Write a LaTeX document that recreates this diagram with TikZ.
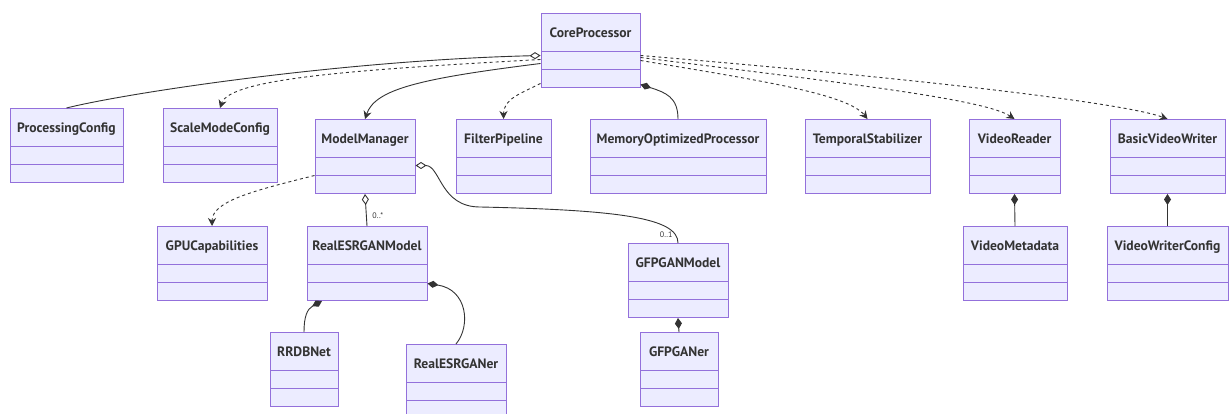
\documentclass[tikz,border=0pt]{standalone}
\usepackage{fontspec}
\setmainfont{PT Sans}
\usepackage{xcolor}
\usepackage{tikz}
\usetikzlibrary{arrows.meta}
\definecolor{ClassBorder}{HTML}{9370DB}
\definecolor{ClassFill}{HTML}{ECECFF}
\definecolor{ClassText}{HTML}{333333}
\definecolor{EdgeGrey}{HTML}{333333}

\begin{document}
\begin{tikzpicture}[
  x=1pt, y=1pt,
  classbox/.style={draw=ClassBorder, fill=ClassFill, line width=1pt, text=ClassText,
                   font=\bfseries\fontsize{13.6}{15}\selectfont, anchor=north,
                   inner ysep=0pt, text height=24pt, text depth=50pt, minimum height=74pt,
                   path picture={\draw[ClassBorder, line width=1pt]
                     ([yshift=-38pt]path picture bounding box.north west) -- ([yshift=-38pt]path picture bounding box.north east)
                     ([yshift=-56pt]path picture bounding box.north west) -- ([yshift=-56pt]path picture bounding box.north east);}},
  assoc/.style={-{Stealth[length=8pt, width=8pt]}, line width=0.9pt, color=EdgeGrey},
  depend/.style={assoc, dash pattern=on 3pt off 3pt},
  aggr/.style={{Diamond[open, length=11pt, width=7pt]}-, line width=0.9pt, color=EdgeGrey},
  compo/.style={{Diamond[length=11pt, width=7pt]}-, line width=0.9pt, color=EdgeGrey},
  multlbl/.style={font=\fontsize{8}{9}\selectfont, text=ClassText, inner sep=1pt},
]
  \useasboundingbox (0,0) rectangle (1231,-414);

  % CoreProcessor: top-centre
  \node[classbox, minimum width=99pt] (CoreProcessor) at (590.5,-13) {CoreProcessor};

  % first row
  \node[classbox, minimum width=113pt] (ProcessingConfig) at (66.5,-108) {ProcessingConfig};
  \node[classbox, minimum width=114pt] (ScaleModeConfig) at (220,-108) {ScaleModeConfig};
  \node[classbox, minimum width=100pt] (ModelManager) at (365,-119) {ModelManager};
  \node[classbox, minimum width=95pt] (FilterPipeline) at (503.5,-119) {FilterPipeline};
  \node[classbox, minimum width=176pt] (MemoryOptimizedProcessor) at (678,-119) {MemoryOptimizedProcessor};
  \node[classbox, minimum width=125pt] (TemporalStabilizer) at (867.5,-119) {TemporalStabilizer};
  \node[classbox, minimum width=91pt] (VideoReader) at (1014.5,-119) {VideoReader};
  \node[classbox, minimum width=115pt] (BasicVideoWriter) at (1167.5,-119) {BasicVideoWriter};

  % second row
  \node[classbox, minimum width=110pt] (GPUCapabilities) at (212,-226) {GPUCapabilities};
  \node[classbox, minimum width=120pt] (RealESRGANModel) at (367,-226) {RealESRGANModel};
  \node[classbox, minimum width=100pt] (GFPGANModel) at (678,-243) {GFPGANModel};
  \node[classbox, minimum width=104pt] (VideoMetadata) at (1015,-226) {VideoMetadata};
  \node[classbox, minimum width=121pt] (VideoWriterConfig) at (1167.5,-226) {VideoWriterConfig};

  % third row
  \node[classbox, minimum width=68pt] (RRDBNet) at (304,-332) {RRDBNet};
  \node[classbox, minimum width=100pt] (RealESRGANer) at (456,-344) {RealESRGANer};
  \node[classbox, minimum width=78pt] (GFPGANer) at (679,-332) {GFPGANer};

  %% CoreProcessor, left side
  \draw[aggr] ([yshift=-5pt]CoreProcessor.west) .. controls +(-200,-5) and +(60,15) .. (ProcessingConfig.north);
  \draw[depend] ([yshift=-9pt]CoreProcessor.west) .. controls +(-180,-10) and +(10,30) .. (ScaleModeConfig.north);
  \draw[assoc] ([yshift=-13pt]CoreProcessor.west) .. controls +(-120,-15) and +(10,30) .. (ModelManager.north);
  \draw[depend] ([yshift=-33pt]CoreProcessor.west) .. controls +(-20,-10) and +(0,20) .. (FilterPipeline.north);

  %% CoreProcessor, right side
  \draw[compo] ([yshift=-34pt]CoreProcessor.east) .. controls +(25,-8) and +(0,22) .. (MemoryOptimizedProcessor.north);
  \draw[depend] ([yshift=-10pt]CoreProcessor.east) .. controls +(120,-20) and +(-20,25) .. (TemporalStabilizer.north);
  \draw[depend] ([yshift=-7pt]CoreProcessor.east) .. controls +(200,-25) and +(-30,20) .. (VideoReader.north);
  \draw[depend] ([yshift=-5pt]CoreProcessor.east) .. controls +(300,-25) and +(-40,15) .. (BasicVideoWriter.north);

  %% ModelManager
  \draw[depend] ([yshift=-19pt]ModelManager.west) .. controls +(-60,-15) and +(0,25) .. (GPUCapabilities.north);
  \draw[aggr] (ModelManager.south) -- (RealESRGANModel.north)
    node[multlbl, pos=1, anchor=south west, xshift=4pt, yshift=6pt] (manyLbl) {0..*};
  \coordinate (gfpBend) at (480,-207);
  \draw[aggr] ([yshift=-9pt]ModelManager.east) .. controls +(25,0) and +(-40,0) .. (gfpBend)
    .. controls +(140,-3) and +(0,25) .. (GFPGANModel.north)
    node[multlbl, pos=1, anchor=south east, xshift=-4pt, yshift=4pt] (oneLbl) {0..1};

  %% compositions
  \draw[compo] ([xshift=-45pt]RealESRGANModel.south) .. controls +(-15,-8) and +(0,15) .. (RRDBNet.north);
  \draw[compo] ([yshift=-20pt]RealESRGANModel.east) .. controls +(40,-6) and +(15,18) .. (RealESRGANer.north);
  \draw[compo] (GFPGANModel.south) -- (GFPGANer.north);
  \draw[compo] (VideoReader.south) -- (VideoMetadata.north);
  \draw[compo] (BasicVideoWriter.south) -- (VideoWriterConfig.north);

\end{tikzpicture}
\end{document}
